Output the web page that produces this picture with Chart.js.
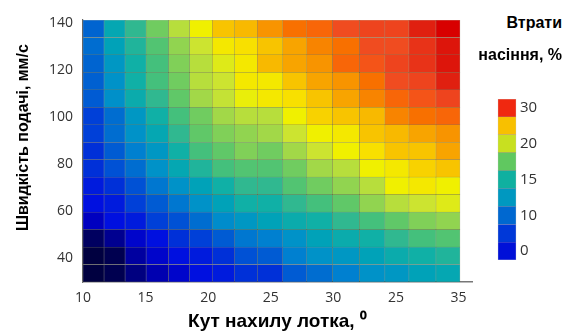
<!DOCTYPE html>
<html>
<head>
<meta charset="utf-8">
<script src="https://cdn.jsdelivr.net/npm/chart.js@4.4.1/dist/chart.umd.min.js"></script>
<style>
  body { margin: 0; background: #fff; }
  #wrap { position: relative; width: 564px; height: 335px; overflow: hidden; }
  #mainBox { position: absolute; left: 0; top: 0; width: 480px; height: 335px; }
  #barBox { position: absolute; left: 496px; top: 99px; width: 68px; height: 161px; }
  .cbTitle { position: absolute; right: 2px; font: bold 16px "Liberation Sans", Arial, sans-serif; color: #000; white-space: nowrap; }
</style>
</head>
<body>
<div id="wrap">
  <div id="mainBox"><canvas id="heatChart"></canvas></div>
  <div class="cbTitle" style="top:14px">Втрати</div>
  <div class="cbTitle" style="top:46px">насіння, %</div>
  <div id="barBox"><canvas id="legendChart"></canvas></div>
</div>
<script>
// column edges along the tilt-angle axis (deg)
const angleEdges = [10, 11.4, 12.8, 14.2, 15.7, 17.1, 18.6, 20.1, 21.6, 23.3, 24.9, 26.6, 28.4, 30.1, 31.7, 33.5, 35.1];
// feed speed rows, top to bottom (mm/s)
const speedRows = ['139', '132', '124', '116', '108', '100', '92', '84', '76', '69', '61', '54', '47', '40', '33'];

// seed losses, % - one array per speed row, left to right by angle
const loss139 = [10, 15, 17, 19.5, 21.5, 23, 25, 25.5, 27, 28.5, 29, 30.5, 31, 31, 33, 34.5];
const loss132 = [10.5, 14.5, 16.5, 18.5, 20.5, 22, 23.5, 24, 25, 26.5, 27.5, 28.5, 30.5, 30.5, 32, 33.5];
const loss124 = [10, 13.5, 16, 18, 20, 21.5, 22.5, 23.5, 25.5, 26.5, 27, 29, 30, 31, 32, 33.5];
const loss116 = [9.8, 13, 16, 18, 19.5, 21.5, 22, 23.5, 23.5, 25, 26.5, 27, 28.5, 30.5, 31, 33];
const loss108 = [9.5, 12.8, 15.5, 17, 19, 21, 21.8, 22.8, 23.5, 24, 25, 26.5, 27.5, 29, 30, 31];
const loss100 = [8, 10.5, 13.5, 16, 18, 19.5, 21, 21.5, 21.5, 23, 24.5, 25, 25.5, 27.5, 28.5, 29];
const loss92 = [8, 10.5, 13, 15, 17, 19, 20, 20.5, 21, 22, 23, 23.5, 25, 25.5, 26.5, 27];
const loss84 = [7, 9.5, 11.5, 13.5, 16, 18, 19, 20, 19.5, 21, 22, 23, 24, 25, 25, 26.5];
const loss76 = [7, 9, 10.5, 13, 15, 16.5, 18, 18.5, 18.5, 19.5, 21, 21.5, 23, 23.5, 24.5, 25];
const loss69 = [6, 7, 9, 11, 13, 14.5, 16, 17, 17, 18.5, 19.5, 20.5, 21.5, 23, 23.5, 23];
const loss61 = [5.5, 6, 8, 9.5, 11, 13, 14.5, 16, 16, 17, 18, 19, 20.5, 21.5, 22, 22.5];
const loss54 = [4, 5.5, 6, 8, 9, 10.5, 12.5, 13.5, 14.5, 15.5, 16, 17, 18, 19, 20, 20.5];
const loss47 = [1, 2.5, 4.5, 5.5, 7, 8, 9.5, 11, 11.5, 13, 14.5, 15.5, 16, 17, 18, 18.5];
const loss40 = [0, 0.5, 3, 4.5, 5.5, 6, 7, 9, 9.5, 11.5, 13, 13.5, 14.5, 15.5, 16, 16.5];
const loss33 = [0, 0.5, 2, 3.5, 4.5, 5.5, 6, 7, 7, 9.5, 10.5, 11.5, 13, 13.5, 14.5, 15];
const lossRows = [loss139, loss132, loss124, loss116, loss108, loss100, loss92, loss84,
                  loss76, loss69, loss61, loss54, loss47, loss40, loss33];

const xTickLabels = ['10', '15', '20', '25', '30', '25', '35'];
const yTickValues = [40, 60, 80, 100, 120, 140];

// colour bar, bottom to top
const legendColors = ['#0010d8', '#0038d8', '#0068d0', '#0098c0', '#10b0a0', '#60c860', '#c8e020', '#f8c000', '#f02810'];
const legendLabels = ['0', '10', '15', '20', '30'];

// value -> colour
const colorStops = [
    [0, '#000040'], [2, '#000080'], [4, '#0000c0'], [5.5, '#0010e0'], [7, '#0030d8'],
    [8.5, '#0048d8'], [10, '#0064d0'], [11.5, '#0080d0'], [13, '#0092c8'], [14.5, '#00a2b8'],
    [16, '#10b0a6'], [17, '#30b890'], [18, '#44c07c'], [19, '#60c868'], [20, '#80d058'],
    [21, '#a2d848'], [22, '#cce430'], [23, '#f0f000'], [24, '#f8e000'], [25, '#f8c400'],
    [26.5, '#f8a400'], [27.5, '#f88400'], [28.5, '#f87000'], [29.5, '#f85c10'], [30.5, '#f04c20'],
    [31.5, '#ec3c1c'], [33, '#e02010'], [34.5, '#d80000']
];

function hexRgb(h) {
    return [parseInt(h.slice(1, 3), 16), parseInt(h.slice(3, 5), 16), parseInt(h.slice(5, 7), 16)];
}

function lossColor(v) {
    if (v <= colorStops[0][0]) return colorStops[0][1];
    for (let i = 1; i < colorStops.length; i++) {
        if (v <= colorStops[i][0]) {
            const [v0, c0] = colorStops[i - 1];
            const [v1, c1] = colorStops[i];
            const t = (v - v0) / (v1 - v0);
            const a = hexRgb(c0), b = hexRgb(c1);
            const rgb = a.map((x, k) => Math.round(x + (b[k] - x) * t));
            return `rgb(${rgb.join(',')})`;
        }
    }
    return colorStops[colorStops.length - 1][1];
}

const tickFont = { family: '"Open Sans", sans-serif', size: 14 };

// one floating-bar dataset per angle column
const datasets = angleEdges.slice(0, -1).map((x0, c) => ({
    data: lossRows.map(() => [x0, angleEdges[c + 1]]),
    backgroundColor: lossRows.map(r => lossColor(r[c])),
    borderColor: 'rgba(50, 50, 0, 0.45)',
    borderWidth: 0.5,
    borderSkipped: false,
    barPercentage: 1,
    categoryPercentage: 1,
    grouped: false
}));

const xMin = angleEdges[0];
const xLast = 35;
const xMax = 35.9;

new Chart(document.getElementById('heatChart'), {
    type: 'bar',
    data: { labels: speedRows, datasets: datasets },
    options: {
        indexAxis: 'y',
        responsive: true,
        maintainAspectRatio: false,
        animation: false,
        layout: { padding: { top: 20, right: 8, left: 0, bottom: 0 } },
        plugins: { legend: { display: false }, tooltip: { enabled: false } },
        scales: {
            y: { type: 'category', display: false },
            yv: {
                type: 'linear', position: 'left', min: 30, max: 141.4, offset: false,
                grid: { display: false, drawTicks: false },
                border: { display: true, color: '#666', width: 1.2 },
                ticks: { font: tickFont, color: '#333', padding: 10 },
                afterBuildTicks: s => { s.ticks = yTickValues.map(v => ({ value: v })); },
                afterFit: s => { s.width = 83; s.paddingTop = 0; s.paddingBottom = 0; },
                title: {
                    display: true, text: '      Швидкість подачі, мм/с', color: '#000',
                    font: { family: '"Liberation Sans", Arial, sans-serif', size: 16, weight: 'bold' },
                    padding: { top: 14, bottom: 0 }
                }
            },
            x: {
                type: 'linear', min: xMin, max: xMax, offset: false,
                grid: { display: false, drawTicks: false },
                border: { display: true, color: '#777', width: 1.5 },
                ticks: {
                    font: tickFont, color: '#333', padding: 8,
                    callback: (v, i) => xTickLabels[i]
                },
                afterBuildTicks: s => {
                    s.ticks = xTickLabels.map((t, i) => ({ value: xMin + i * (xLast - xMin) / (xTickLabels.length - 1) }));
                },
                afterFit: s => { s.height = 53; s.paddingLeft = 0; s.paddingRight = 0; },
                title: {
                    display: true, text: 'Кут нахилу лотка, ⁰', color: '#000',
                    font: { family: '"Liberation Sans", Arial, sans-serif', size: 19, weight: 'bold' },
                    padding: { top: 0, bottom: 2 }
                }
            }
        }
    }
});

// colour bar as a stacked bar
new Chart(document.getElementById('legendChart'), {
    type: 'bar',
    data: {
        labels: [''],
        datasets: legendColors.map(c => ({
            data: [1], backgroundColor: c, borderColor: 'rgba(0,0,0,0.25)', borderWidth: 0.5,
            borderSkipped: false, barThickness: 18
        }))
    },
    options: {
        responsive: true,
        maintainAspectRatio: false,
        animation: false,
        layout: { padding: 0 },
        plugins: { legend: { display: false }, tooltip: { enabled: false } },
        scales: {
            x: { display: false, stacked: true },
            y: {
                position: 'right', stacked: true, min: 0, max: legendColors.length,
                grid: { display: false, drawTicks: false },
                border: { display: false },
                ticks: { font: { family: '"Open Sans", sans-serif', size: 15 }, color: '#333', padding: 2, callback: (v, i) => legendLabels[i] },
                afterBuildTicks: s => { s.ticks = legendLabels.map((t, i) => ({ value: 0.5 + i * 2 })); },
                afterFit: s => { s.width = 46; s.paddingTop = 0; s.paddingBottom = 0; }
            }
        }
    }
});
</script>
</body>
</html>
